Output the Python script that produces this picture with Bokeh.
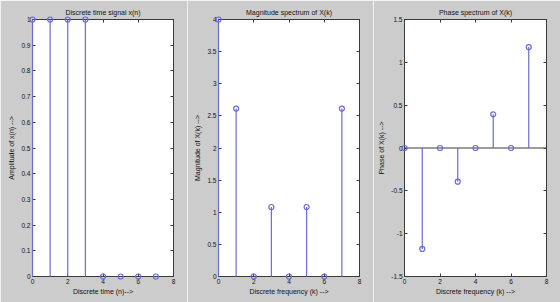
from bokeh.plotting import figure
from bokeh.layouts import row
from bokeh.models import Range1d, FixedTicker, LinearAxis, Span, CustomJSTickFormatter
from bokeh.embed import file_html
from bokeh.resources import INLINE

# Input sequence and its 8-point DFT
n = [0, 1, 2, 3, 4, 5, 6, 7]
x_n = [1, 1, 1, 1, 0, 0, 0, 0]
k = [0, 1, 2, 3, 4, 5, 6, 7]
mag = [4.0, 2.613, 0.0, 1.082, 0.0, 1.082, 0.0, 2.613]
phase = [0.0, -1.178, 0.0, -0.393, 0.0, 0.393, 0.0, 1.178]

x_ticks = [0, 2, 4, 6, 8]
amp_ticks = [0, 0.1, 0.2, 0.3, 0.4, 0.5, 0.6, 0.7, 0.8, 0.9, 1]
mag_ticks = [0, 0.5, 1, 1.5, 2, 2.5, 3, 3.5, 4]
phase_ticks = [-1.5, -1, -0.5, 0, 0.5, 1, 1.5]

BG = "#cccccc"
STEM = "#6b6bd6"
AXIS = "#3a3a3a"
FONT = "Liberation Sans"

fmt_code = "return String(Number(tick.toFixed(3)))"


def style_axis(ax, show_labels, label_standoff=3):
    ax.axis_line_color = AXIS
    ax.major_tick_line_color = AXIS
    ax.major_tick_in = 3
    ax.major_tick_out = 0
    ax.minor_tick_line_color = None
    ax.major_label_text_font = FONT
    ax.major_label_text_font_size = "6.5px" if show_labels else "0px"
    ax.major_label_text_color = "#111111"
    ax.major_label_standoff = 2
    ax.axis_label_text_font = FONT
    ax.axis_label_text_font_size = "7px"
    ax.axis_label_text_font_style = "normal"
    ax.axis_label_text_color = "#111111"
    ax.axis_label_standoff = label_standoff
    if show_labels:
        ax.formatter = CustomJSTickFormatter(code=fmt_code)
    else:
        ax.formatter = CustomJSTickFormatter(code="return ''")


def panel(title, xs, ys, yr, yticks, xlabel, ylabel, width, left, baseline=False):
    p = figure(width=width, height=302, output_backend="svg", toolbar_location=None,
               x_range=Range1d(0, 8), y_range=Range1d(*yr),
               min_border_left=left, min_border_right=14,
               min_border_top=19, min_border_bottom=26)
    p.border_fill_color = BG
    p.background_fill_color = "white"
    p.outline_line_color = AXIS
    p.xgrid.visible = False
    p.ygrid.visible = False

    p.title.text = title
    p.title.text_font = FONT
    p.title.text_font_size = "7px"
    p.title.text_font_style = "normal"
    p.title.text_color = "#111111"
    p.title.align = "center"
    p.title.standoff = 7

    p.xaxis.ticker = FixedTicker(ticks=x_ticks)
    p.yaxis.ticker = FixedTicker(ticks=yticks)
    p.xaxis.axis_label = xlabel
    p.yaxis.axis_label = ylabel
    style_axis(p.xaxis[0], True, label_standoff=1)
    style_axis(p.yaxis[0], True)

    top = LinearAxis(ticker=FixedTicker(ticks=x_ticks))
    right = LinearAxis(ticker=FixedTicker(ticks=yticks))
    style_axis(top, False)
    style_axis(right, False)
    p.add_layout(top, "above")
    p.add_layout(right, "right")

    if baseline:
        p.add_layout(Span(location=0, dimension="width", line_color=AXIS, line_width=1))

    stems = p.segment(x0=xs, y0=[0] * len(xs), x1=xs, y1=ys, line_color=STEM, line_width=1.2)
    heads = p.scatter(xs, ys, marker="circle", size=5, fill_color=None,
                      line_color=STEM, line_width=1.2)
    stems.level = "overlay"
    heads.level = "overlay"
    return p


p1 = panel("Discrete time signal x(n)", n, x_n, (0, 1), amp_ticks,
           "Discrete time (n)-->", "Amplitude of x(n) -->", 187, 32)
p2 = panel("Magnitude spectrum of X(k)", k, mag, (0, 4), mag_ticks,
           "Discrete frequency (k) -->", "Magnitude of X(k) -->", 186, 31)
p3 = panel("Phase spectrum of X(k)", k, phase, (-1.5, 1.5), phase_ticks,
           "Discrete frequency (k) -->", "Phase of X(k) -->", 187, 31, baseline=True)

layout = row(p1, p2, p3, spacing=0)
open("out.html", "w").write(file_html(layout, INLINE))
